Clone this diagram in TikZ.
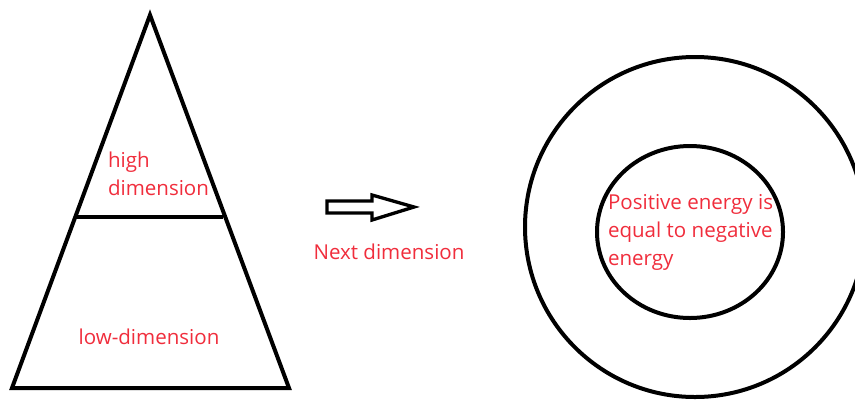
\documentclass[tikz,border=0pt]{standalone}
\usepackage{fontspec}
\setmainfont{Open Sans}
\usetikzlibrary{positioning}
\definecolor{labelred}{RGB}{240,45,60}

\begin{document}
\begin{tikzpicture}[x=0.75pt, y=-0.75pt, line width=3pt,
      lbl/.style={text=labelred, font=\fontsize{15.4}{21}\selectfont,
                  align=left, inner sep=0pt}]
    \useasboundingbox (0,0) rectangle (855,401);
    % pyramid
    \draw[line join=miter] (150,15) -- (289,388) -- (12,388) -- cycle;
    \draw (77,217) -- (223,217);
    \node[lbl, anchor=west] (high) at (106,174) {high\\dimension};
    \node[lbl] (low) at (149,337) {low-dimension};
    % arrow
    \draw[line width=2.5pt] (327,201) -- (372,201) -- (372,195) -- (414,207)
      -- (372,220) -- (372,213) -- (327,213) -- cycle;
    \node[lbl] (next) at (389,252) {Next dimension};
    % rings
    \draw (695,227) ellipse [x radius=127.5pt, y radius=127.5pt];
    \draw (690,232) ellipse [x radius=69.75pt, y radius=64.5pt];
    \node[lbl, anchor=west] (energy) at (606,232)
      {Positive energy is\\equal to negative\\energy};
  \end{tikzpicture}
\end{document}
